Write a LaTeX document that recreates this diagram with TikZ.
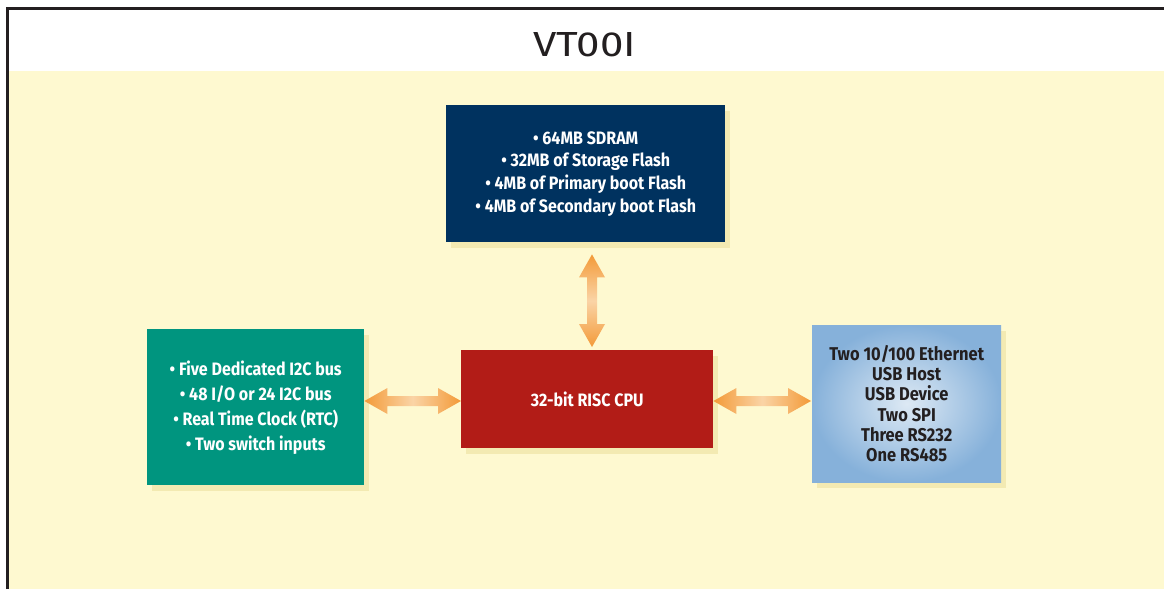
\documentclass[tikz,border=0pt]{standalone}
\usepackage{fontspec}
\setmainfont{Fira Sans}
\newfontfamily\boxfont{Fira Sans}[FakeStretch=0.89]
\newfontfamily\titlefont{Fira Sans}
\usetikzlibrary{shadows,calc}
\definecolor{framec}{HTML}{231F20}
\definecolor{bgyel}{HTML}{FEF9D0}
\definecolor{shadc}{HTML}{F3EAB2}
\definecolor{navy}{HTML}{00325F}
\definecolor{teal}{HTML}{00957F}
\definecolor{cpured}{HTML}{B21C17}
\definecolor{bluein}{HTML}{DDE9F4}
\definecolor{blueout}{HTML}{86B1DA}
\definecolor{aro}{HTML}{F39A38}
\definecolor{arl}{HTML}{FAD4A6}
\definecolor{txtdark}{HTML}{231F20}
\tikzset{
  blockbox/.style={rectangle, anchor=north west, inner sep=0pt, align=center,
    drop shadow={shadow xshift=5pt, shadow yshift=-6pt, fill=shadc, opacity=1}},
}
\newcommand{\hfat}[2]{%
  \shade[left color=aro, right color=aro, middle color=arl]
   (#1) -- ($(#1)+(23,-13)$) -- ($(#1)+(23,-5)$) -- ($(#2)+(-23,-5)$) -- ($(#2)+(-23,-13)$) -- (#2)
   -- ($(#2)+(-23,13)$) -- ($(#2)+(-23,5)$) -- ($(#1)+(23,5)$) -- ($(#1)+(23,13)$) -- cycle;}
\newcommand{\vfat}[2]{%
  \shade[top color=aro, bottom color=aro, middle color=arl]
   (#1) -- ($(#1)+(13,23)$) -- ($(#1)+(5,23)$) -- ($(#2)+(5,-23)$) -- ($(#2)+(13,-23)$) -- (#2)
   -- ($(#2)+(-13,-23)$) -- ($(#2)+(-5,-23)$) -- ($(#1)+(-5,23)$) -- ($(#1)+(-13,23)$) -- cycle;}
\begin{document}
\begin{tikzpicture}[x=1pt,y=-1pt]
\useasboundingbox (0,0) rectangle (1164,589);
\fill[white] (0,0) rectangle (1164,589);
\fill[bgyel] (9,71) rectangle (1164,589);
\draw[framec, line width=3pt] (7.5,589) -- (7.5,8.5) -- (1164,8.5);
\node[anchor=base, inner sep=0pt, text=framec] (title) at (584.5,56)
  {\resizebox{103pt}{24pt}{\titlefont VT00I}};
% blocks
\node[blockbox, fill=navy, text=white, minimum width=279pt, minimum height=137pt,
  font=\boxfont\bfseries\fontsize{18}{22.7}\selectfont] (mem) at (446,105)
  {• 64MB SDRAM\\ • 32MB of Storage Flash\\ • 4MB of Primary boot Flash\\ • 4MB of Secondary boot Flash};
\node[blockbox, fill=teal, text=white, minimum width=217pt, minimum height=156pt,
  font=\boxfont\bfseries\fontsize{18}{25}\selectfont] (io) at (147,329)
  {• Five Dedicated I2C bus\\ • 48 I/O or 24 I2C bus\\ • Real Time Clock (RTC)\\ • Two switch inputs};
\node[blockbox, fill=cpured, text=white, minimum width=252pt, minimum height=98pt,
  font=\boxfont\bfseries\fontsize{18}{22}\selectfont] (cpu) at (461,350)
  {32-bit RISC CPU};
\node[blockbox, inner color=bluein, outer color=blueout, text=txtdark, minimum width=189pt, minimum height=157pt,
  font=\boxfont\bfseries\fontsize{18.5}{20.2}\selectfont] (com) at (812,325)
  {Two 10/100 Ethernet\\ USB Host\\ USB Device\\ Two SPI\\ Three RS232\\ One RS485};
% connectors
\coordinate (ay) at (0,401);
\coordinate (ax) at (592,0);
\coordinate (l1) at (io.east |- ay);
\coordinate (l2) at (cpu.west |- ay);
\coordinate (r1) at (cpu.east |- ay);
\coordinate (r2) at ([xshift=-1pt]com.west |- ay);
\coordinate (v1) at ([yshift=-12pt]ax |- mem.south);
\coordinate (v2) at ([yshift=3pt]ax |- cpu.north);
\hfat{l1}{l2}
\hfat{r1}{r2}
\vfat{v1}{v2}
\end{tikzpicture}
\end{document}
